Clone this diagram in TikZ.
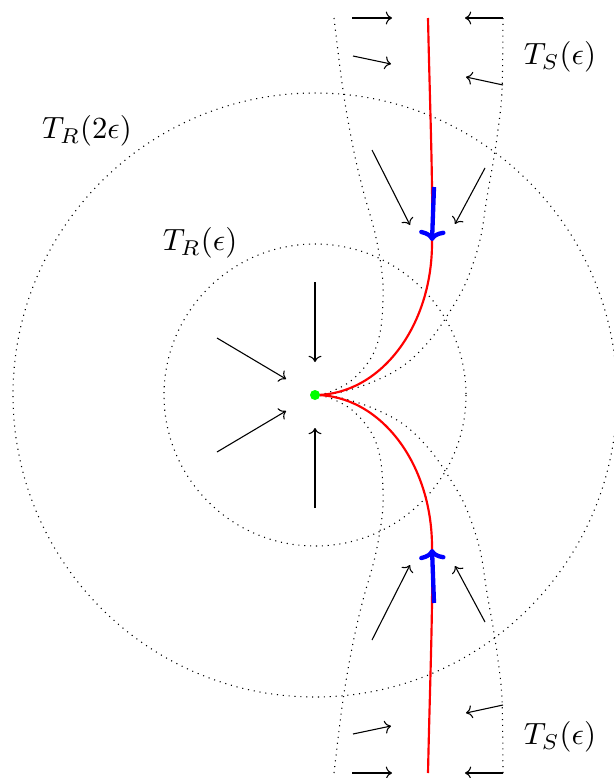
\documentclass[tikz,border=0pt]{standalone}
\usetikzlibrary{arrows.meta}
\begin{document}
\begin{tikzpicture}[x=0.41667pt,y=-0.41667pt,
  flow/.style={->,line width=0.45pt},
  bound/.style={dotted, line width=0.45pt},
  redc/.style={red, line width=0.9pt},
  bluea/.style={blue, line width=1.8pt, -{Computer Modern Rightarrow[width=11pt,length=4.5pt]}},
  lab/.style={inner sep=0pt, scale=1.28}]
\useasboundingbox (0,0) rectangle (613,778);
\coordinate (c) at (315,395);
% tubular neighbourhoods of the rest point
\draw[bound] (c) circle[radius=151];
\draw[bound] (c) circle[radius=302];
% tubes around the stable manifold (upper and lower)
\draw[bound] plot[smooth, tension=0.6] coordinates {(334,18) (343,90) (353,147) (363,190) (375,233) (382,273) (383,300) (380,333) (371,358) (352,380) (330,392) (315,395)};
\draw[bound] plot[smooth, tension=0.6] coordinates {(503,18) (502,90) (498,130) (493,163) (487,197) (480,240) (467,280) (452,308) (430,340) (403,366) (370,383) (337,393) (315,395)};
\draw[bound] plot[smooth, tension=0.6] coordinates {(334,773) (343,700) (353,643) (363,600) (375,557) (382,517) (383,490) (380,457) (371,432) (352,410) (330,398) (315,395)};
\draw[bound] plot[smooth, tension=0.6] coordinates {(503,773) (502,700) (498,660) (493,627) (487,593) (480,550) (467,510) (452,482) (430,450) (403,424) (370,407) (337,397) (315,395)};
% stable manifold
\draw[redc] (428,18) .. controls (430,110) and (433,180) .. (432,243) .. controls (432,327) and (380,395) .. (315,395);
\draw[redc] (428,773) .. controls (430,680) and (433,610) .. (432,547) .. controls (432,463) and (380,395) .. (315,395);
\draw[bluea] (434,187) -- (432,241);
\draw[bluea] (434,603) -- (432,549);
% vector field arrows
\draw[flow] (352,18) -- (392,18);
\draw[flow] (353,56) -- (391,64);
\draw[flow] (503,18) -- (465,18);
\draw[flow] (503,85) -- (466,77);
\draw[flow] (372,150) -- (410,225);
\draw[flow] (485,168) -- (455,224);
\draw[flow] (352,773) -- (392,773);
\draw[flow] (353,734) -- (391,726);
\draw[flow] (503,773) -- (465,773);
\draw[flow] (503,705) -- (466,713);
\draw[flow] (372,640) -- (410,565);
\draw[flow] (485,622) -- (455,566);
\draw[flow] (315,282) -- (315,362);
\draw[flow] (315,508) -- (315,428);
\draw[flow] (217,338) -- (286,379);
\draw[flow] (217,452) -- (286,411);
% rest point
\fill[green] (c) circle[radius=5];
% labels
\node[lab] (tr2) at (87,131) {$T_R(2\epsilon)$};
\node[lab] (tr1) at (200,243) {$T_R(\epsilon)$};
\node[lab] (ts1) at (560,57) {$T_S(\epsilon)$};
\node[lab] (ts2) at (560,737) {$T_S(\epsilon)$};
\end{tikzpicture}
\end{document}
